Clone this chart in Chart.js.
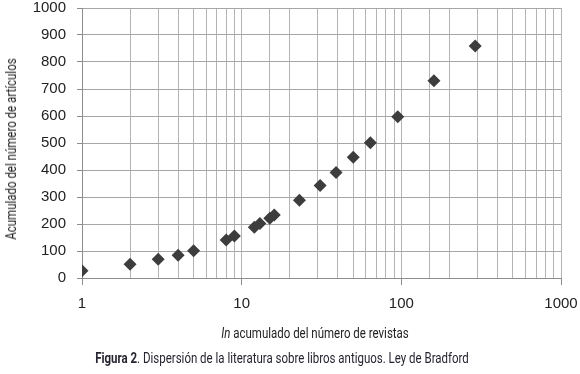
<!DOCTYPE html>
<html>
<head>
<meta charset="utf-8">
<script src="https://cdn.jsdelivr.net/npm/chart.js@4/dist/chart.umd.min.js"></script>
<style>
  html, body { margin: 0; padding: 0; background: #fff; }
  #wrap { position: relative; width: 580px; height: 374px; overflow: hidden; }
  #c { position: absolute; left: 0; top: 0; }
  .lbl { position: absolute; white-space: nowrap; font-family: Roboto, 'Liberation Sans', sans-serif; color: #222; }
  .xt { left: 315px; top: 333px; font-size: 14px; transform: translate(-50%, -50%) scaleX(0.82); }
  .cap { left: 282px; top: 358px; font-size: 14px; color: #262430; transform: translate(-50%, -50%) scaleX(0.82); }
  .yt { left: 11px; top: 149px; font-size: 14px; transform: translate(-50%, -50%) rotate(-90deg) scaleX(0.82); }
</style>
</head>
<body>
<div id="wrap">
  <canvas id="c" width="580" height="374"></canvas>
  <div class="lbl xt"><i>In</i> acumulado del número de revistas</div>
  <div class="lbl cap"><b>Figura 2</b>. Dispersión de la literatura sobre libros antiguos. Ley de Bradford</div>
  <div class="lbl yt" id="yt"></div>
</div>
<script>
const journalsCum = [1, 2, 3, 4, 5, 8, 9, 12, 13, 15, 16, 23, 31, 39, 50, 64, 95, 160, 290];
const articlesCum = [27, 51, 69, 84, 101, 141, 156, 188, 202, 221, 233, 288, 343, 391, 447, 501, 597, 731, 859];
const xTickLabels = ['1', '10', '100', '1000'];
const yTitle = 'Acumulado del número de artículos';
document.getElementById('yt').textContent = yTitle;

const points = journalsCum.map((x, i) => ({ x: x, y: articlesCum[i] }));
const isDecade = v => xTickLabels.includes(String(v));

new Chart(document.getElementById('c'), {
  type: 'scatter',
  data: {
    datasets: [{
      data: points,
      pointStyle: 'rectRot',
      pointRadius: 6.5,
      pointHoverRadius: 6.5,
      backgroundColor: '#3d3d3d',
      borderColor: '#3d3d3d',
      borderWidth: 0
    }]
  },
  options: {
    responsive: false,
    animation: false,
    devicePixelRatio: 1,
    layout: { padding: { top: 8, right: 19, left: 0, bottom: 0 } },
    plugins: { legend: { display: false }, tooltip: { enabled: false } },
    scales: {
      x: {
        type: 'logarithmic',
        min: 1, max: 1000,
        afterFit: s => { s.height = 96; s.paddingLeft = 0; s.paddingRight = 0; },
        border: { color: '#8c8c8c', width: 1 },
        grid: {
          color: '#b4b4b4',
          tickColor: ctx => (ctx.tick && isDecade(ctx.tick.value)) ? '#8c8c8c' : 'rgba(0,0,0,0)',
          tickLength: 7
        },
        ticks: {
          autoSkip: false,
          maxRotation: 0,
          padding: 10,
          color: '#222',
          font: { family: "'Liberation Sans', Arial, sans-serif", size: 15 },
          callback: v => isDecade(v) ? String(v) : ''
        }
      },
      y: {
        min: 0, max: 1000,
        afterFit: s => { s.width = 82; s.paddingTop = 0; s.paddingBottom = 0; },
        border: { color: '#8c8c8c', width: 1 },
        grid: { color: '#a6a6a6', tickColor: '#8c8c8c', tickLength: 5 },
        ticks: {
          stepSize: 100,
          padding: 11,
          color: '#222',
          font: { family: "'Liberation Sans', Arial, sans-serif", size: 15 },
          callback: v => String(v)
        }
      }
    }
  }
});
</script>
</body>
</html>
